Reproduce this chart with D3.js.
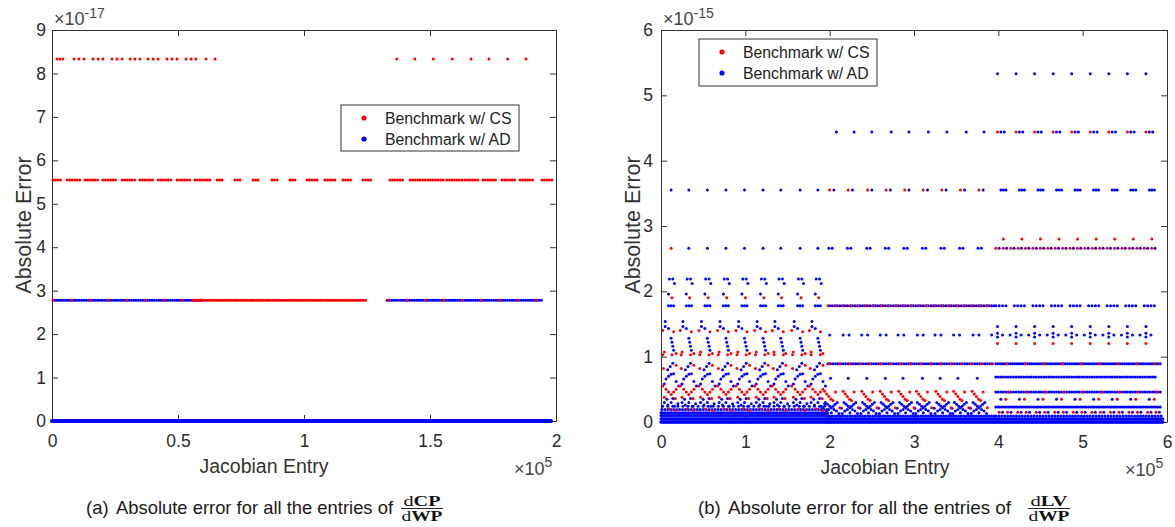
<!DOCTYPE html>
<html><head><meta charset="utf-8">
<script src="https://cdn.jsdelivr.net/npm/d3@7"></script>
<style>body{margin:0;background:#fff}svg{display:block}</style>
</head><body>
<svg id="chart" width="1175" height="527"></svg>
<script>
// ---------- series ----------
const seriesNames = ["Benchmark w/ CS", "Benchmark w/ AD"];
const seriesColors = ["#ff0000", "#0000ff"];

// ---------- panel (a): dCP/dWP, x in 1e5, error in 1e-17 ----------
const cpXTicks = [0, 0.5, 1, 1.5, 2];
const cpYTicks = [0, 1, 2, 3, 4, 5, 6, 7, 8, 9];
// [series, error level, entry positions]
const cpRows = [
  [0, 8.33, [0.020, 0.032, 0.044, 0.087, 0.107, 0.127, 0.163, 0.183, 0.202, 0.238, 0.258, 0.278,
             0.310, 0.329, 0.349, 0.381, 0.401, 0.421, 0.456, 0.476, 0.496, 0.532, 0.552, 0.571,
             0.611, 0.647, 1.368, 1.440, 1.513, 1.588, 1.663, 1.734, 1.808, 1.881]]
];
// entry ranges filled at level 5.55 (CS)
const cpLevel555 = [[0.004, 0.040], [0.060, 0.111], [0.131, 0.183], [0.202, 0.258], [0.278, 0.329],
  [0.349, 0.401], [0.421, 0.480], [0.496, 0.548], [0.567, 0.627], [0.655, 0.675], [0.726, 0.754],
  [0.798, 0.825], [0.873, 0.897], [0.944, 0.972], [1.012, 1.052], [1.083, 1.123], [1.155, 1.194],
  [1.234, 1.270], [1.341, 1.393], [1.421, 1.488], [1.492, 1.552], [1.567, 1.627], [1.639, 1.698],
  [1.710, 1.766], [1.786, 1.845], [1.857, 1.909], [1.944, 1.984]];
// [series, level, first entry, last entry, spacing]
const cpRuns = [
  [1, 0.00, 0.000, 1.980, 0.006],
  [1, 2.78, 0.010, 0.600, 0.009],
  [1, 2.78, 1.330, 1.950, 0.009],
  [0, 2.78, 0.004, 0.600, 0.0734],
  [0, 2.78, 0.560, 1.250, 0.009],
  [0, 2.78, 1.335, 1.960, 0.0734]
];

// ---------- panel (b): dLV/dWP, x in 1e5, error in 1e-15 ----------
const lvXTicks = [0, 1, 2, 3, 4, 5, 6];
const lvYTicks = [0, 1, 2, 3, 4, 5, 6];
const blocksA = [0.12, 0.33, 0.55, 0.77, 0.99, 1.21, 1.42, 1.65, 1.86];
const blocksB = [2.06, 2.28, 2.51, 2.73, 2.95, 3.17, 3.39, 3.61, 3.83];
const blocksBv = [2.02, 2.24, 2.46, 2.68, 2.90, 3.11, 3.34, 3.55, 3.77];
const blocksC = [3.99, 4.21, 4.43, 4.65, 4.87, 5.09, 5.31, 5.53, 5.75];

const lvRows = [
  [1, 5.33, blocksC],
  [1, 4.44, [2.08, 2.29, 2.50, 2.73, 2.94, 3.17, 3.39, 3.62, 3.83]],
  [1, 3.55, blocksA],
  [0, 2.66, [0.12]],
  [1, 2.66, [0.33, 0.55, 0.77, 0.99, 1.21, 1.42, 1.65, 1.86]],
  [0, 2.80, [4.06, 4.28, 4.50, 4.72, 4.94, 5.16, 5.38, 5.60, 5.82]],
  [1, 1.46, blocksC],
  [0, 1.20, blocksC],
  [1, 1.33, [2.00, 2.16, 2.23, 2.38, 2.45, 2.60, 2.67, 2.81, 2.88, 3.04, 3.11, 3.25, 3.32, 3.47, 3.54, 3.70, 3.77]],
  [1, 0.67, [2.01, 2.22, 2.44, 2.66, 2.87, 3.10, 3.31, 3.52, 3.75]]
];
const lvRuns = [
  // first third
  [0, 1.03, 0.02, 1.95, 0.11],
  [1, 0.00, 0.00, 1.98, 0.012], [1, 0.05, 0.00, 1.98, 0.015], [1, 0.10, 0.00, 1.98, 0.02],
  [1, 0.14, 0.00, 1.98, 0.025], [1, 0.19, 0.01, 1.98, 0.035], [1, 0.24, 0.02, 1.96, 0.06],
  // second third
  [1, 1.78, 2.00, 3.95, 0.03], [0, 1.78, 1.98, 3.95, 0.09],
  [1, 0.89, 1.98, 3.95, 0.03], [0, 0.89, 2.00, 3.95, 0.12],
  [1, 0.00, 1.98, 3.97, 0.012], [1, 0.05, 1.98, 3.97, 0.018], [1, 0.09, 2.00, 3.97, 0.03],
  // last third
  [0, 2.66, 3.97, 5.88, 0.088], [1, 2.66, 4.01, 5.88, 0.088],
  [1, 0.89, 3.97, 5.92, 0.025], [0, 0.89, 4.10, 5.90, 0.22],
  [1, 0.69, 3.97, 5.88, 0.03],
  [1, 0.46, 3.97, 5.92, 0.03],
  [1, 0.23, 3.97, 5.92, 0.025],
  [1, 0.00, 3.97, 5.95, 0.012], [1, 0.05, 3.97, 5.95, 0.02], [1, 0.09, 3.97, 5.95, 0.035]
];
// repeating column groups: [offset, level, series]
const lvMotifs = [
  { blocks: blocksA, marks: [
    [-0.02, 2.19, 1], [0.02, 2.19, 1], [0.04, 2.12, 1],
    [-0.03, 1.96, 1], [0.01, 1.90, 0],
    [-0.03, 1.78, 1], [0.00, 1.78, 1], [0.03, 1.78, 1],
    [-0.07, 1.54, 1],
    [-0.10, 1.40, 0], [-0.07, 1.46, 1], [-0.03, 1.43, 1], [0.03, 1.38, 0],
    [0.00, 1.28, 1], [0.01, 1.22, 1], [0.02, 1.16, 1], [0.03, 1.10, 1], [-0.08, 1.07, 0], [0.06, 1.05, 0],
    [-0.09, 0.82, 0], [-0.04, 0.80, 1], [-0.01, 0.85, 1], [0.02, 0.90, 1], [0.06, 0.87, 0],
    [-0.06, 0.66, 1], [-0.03, 0.70, 1], [0.00, 0.73, 1], [0.03, 0.74, 1], [0.06, 0.62, 1], [-0.08, 0.58, 1],
    [-0.10, 0.55, 0], [0.09, 0.55, 1],
    [-0.06, 0.50, 0], [-0.03, 0.46, 0], [0.00, 0.42, 0], [0.03, 0.46, 0], [0.06, 0.50, 0], [-0.08, 0.38, 0], [0.05, 0.36, 0],
    [-0.05, 0.35, 1], [0.02, 0.36, 1],
    [-0.08, 0.30, 1], [-0.04, 0.26, 1], [0.00, 0.30, 1], [0.04, 0.24, 1], [0.08, 0.28, 1], [-0.02, 0.20, 0], [0.06, 0.18, 0]
  ]},
  { blocks: blocksB, marks: [
    [-0.06, 3.55, 0], [-0.01, 3.55, 1], [-0.07, 2.66, 1], [-0.03, 2.66, 1]
  ]},
  { blocks: blocksBv, marks: [
    [-0.08, 0.47, 0], [-0.055, 0.43, 0], [-0.03, 0.39, 0], [-0.005, 0.35, 0], [0.02, 0.33, 0], [0.05, 0.46, 0],
    [-0.07, 0.30, 1], [-0.045, 0.27, 1], [-0.02, 0.24, 1], [0.00, 0.22, 1], [0.02, 0.24, 1], [0.045, 0.27, 1], [0.07, 0.30, 1],
    [-0.06, 0.17, 1], [-0.03, 0.19, 1], [0.03, 0.19, 1], [0.06, 0.17, 1], [0.00, 0.14, 1],
    [-0.09, 0.13, 1], [0.09, 0.13, 1], [0.10, 0.22, 0], [-0.10, 0.21, 1]
  ]},
  { blocks: blocksC, marks: [
    [0.00, 4.44, 0], [0.04, 4.44, 1], [0.08, 4.44, 1],
    [0.04, 3.55, 1], [0.07, 3.55, 1], [0.10, 3.55, 1],
    [-0.02, 1.78, 1], [0.02, 1.78, 1], [0.06, 1.78, 1], [0.10, 1.78, 1],
    [-0.07, 1.33, 1], [0.00, 1.36, 1], [0.00, 1.30, 1], [0.06, 1.33, 1],
    [0.04, 0.35, 1], [0.10, 0.35, 0],
    [0.02, 0.15, 0], [0.06, 0.15, 1], [0.12, 0.15, 0], [0.16, 0.15, 1],
    [0.13, 0.46, 0]
  ]}
];

// ---------- helpers ----------
function expandPoints(rows, runs, motifs, ranges) {
  const pts = [];
  rows.forEach(([s, v, xs]) => xs.forEach(x => pts.push({ s, x, v })));
  runs.forEach(([s, v, x0, x1, step]) => {
    for (let x = x0; x <= x1 + 1e-9; x += step) pts.push({ s, x, v });
  });
  motifs.forEach(({ blocks, marks }) =>
    blocks.forEach(b => marks.forEach(([dx, v, s]) => pts.push({ s, x: b + dx, v }))));
  (ranges || []).forEach(({ s, v, spans, step }) => spans.forEach(([x0, x1]) => {
    for (let x = x0; x <= x1 + 1e-9; x += step) pts.push({ s, x, v });
  }));
  return pts;
}

const svg = d3.select("#chart");
const sans = "'Liberation Sans', Arial, Helvetica, sans-serif";
const serif = "'Liberation Serif', 'Times New Roman', serif";
const axisColor = "#333";
const textColor = "#2b2b2b";

function drawPanel(cfg) {
  const x = d3.scaleLinear().domain(cfg.xDomain).range([cfg.left, cfg.right]);
  const y = d3.scaleLinear().domain(cfg.yDomain).range([cfg.bottom, cfg.top]);
  const g = svg.append("g");

  const styleAxis = sel => {
    sel.selectAll("path.domain").attr("stroke", axisColor).attr("stroke-width", 1);
    sel.selectAll(".tick line").attr("stroke", axisColor).attr("stroke-width", 1);
    sel.selectAll(".tick text").attr("fill", textColor).style("font", `17.5px ${sans}`);
  };

  g.append("g").attr("transform", `translate(0,${cfg.bottom})`)
    .call(d3.axisBottom(x).tickValues(cfg.xTicks).tickSize(-6).tickSizeOuter(0).tickPadding(14).tickFormat(d => String(d)))
    .call(styleAxis);
  g.append("g").attr("transform", `translate(0,${cfg.top})`)
    .call(d3.axisTop(x).tickValues(cfg.xTicks).tickSize(-6).tickSizeOuter(0).tickFormat(""))
    .call(styleAxis);
  g.append("g").attr("transform", `translate(${cfg.left},0)`)
    .call(d3.axisLeft(y).tickValues(cfg.yTicks).tickSize(-6).tickSizeOuter(0).tickPadding(cfg.yPad).tickFormat(d => String(d)))
    .call(styleAxis);
  g.append("g").attr("transform", `translate(${cfg.right},0)`)
    .call(d3.axisRight(y).tickValues(cfg.yTicks).tickSize(-6).tickSizeOuter(0).tickFormat(""))
    .call(styleAxis);

  // points: AD first, CS on top
  const pts = cfg.points.slice().sort((a, b) => b.s - a.s);
  g.append("g").selectAll("circle").data(pts).join("circle")
    .attr("cx", d => x(d.x)).attr("cy", d => y(d.v))
    .attr("r", d => (d.v === 0 ? cfg.r0 : cfg.r))
    .attr("fill", d => seriesColors[d.s]);

  // exponent labels
  const ey = g.append("text").attr("x", cfg.left + 2).attr("y", cfg.top - 5)
    .attr("fill", "#444").style("font", `18px ${sans}`);
  ey.append("tspan").text("\u00d710");
  ey.append("tspan").attr("dy", -7).style("font-size", "14px").text(cfg.yExp);

  const ex = g.append("text").attr("x", cfg.right - 42).attr("y", cfg.bottom + 54)
    .attr("fill", "#444").style("font", `18px ${sans}`);
  ex.append("tspan").text("\u00d710");
  ex.append("tspan").attr("dy", -8).style("font-size", "14px").text(cfg.xExp);

  // axis titles
  g.append("text").attr("x", cfg.xTitleX).attr("y", cfg.bottom + 52)
    .attr("text-anchor", "middle").attr("fill", "#333")
    .style("font", `19.5px ${sans}`).text("Jacobian Entry");
  g.append("text").attr("transform", `translate(${cfg.yTitleX},225) rotate(-90)`)
    .attr("text-anchor", "middle").attr("fill", "#333")
    .style("font", `21.5px ${sans}`).text("Absolute Error");

  // legend
  const L = cfg.legend;
  const lg = g.append("g");
  lg.append("rect").attr("x", L.x).attr("y", L.y).attr("width", L.w).attr("height", L.h)
    .attr("fill", "#fff").attr("stroke", "#333").attr("stroke-width", 1);
  seriesNames.forEach((name, i) => {
    const cy = L.y + 13 + i * 21;
    lg.append("circle").attr("cx", L.x + 23).attr("cy", cy).attr("r", 2.6).attr("fill", seriesColors[i]);
    lg.append("text").attr("x", L.x + 44).attr("y", cy + 5.5).attr("fill", "#222")
      .style("font", `15.8px ${sans}`).text(name);
  });

  // caption
  const cap = cfg.caption;
  svg.append("text").attr("x", cap.x).attr("y", 514).attr("fill", "#1a1a1a")
    .style("font", `18.5px ${sans}`).text(cap.tag);
  svg.append("text").attr("x", cap.x + 30).attr("y", 514).attr("fill", "#1a1a1a")
    .style("font", `18.5px ${sans}`).attr("textLength", cap.len).attr("lengthAdjust", "spacingAndGlyphs")
    .text("Absolute error for all the entries of");
  const fx = cap.fracX;
  const num = svg.append("text").attr("x", fx).attr("y", 506).attr("text-anchor", "middle")
    .attr("fill", "#111").style("font", `15px ${serif}`)
    .attr("textLength", 37).attr("lengthAdjust", "spacingAndGlyphs");
  num.append("tspan").text("d");
  num.append("tspan").attr("font-weight", "bold").text(cap.num);
  svg.append("line").attr("x1", fx - 21).attr("x2", fx + 21).attr("y1", 508.5).attr("y2", 508.5)
    .attr("stroke", "#111").attr("stroke-width", 0.9);
  const den = svg.append("text").attr("x", fx).attr("y", 521).attr("text-anchor", "middle")
    .attr("fill", "#111").style("font", `15px ${serif}`)
    .attr("textLength", 41).attr("lengthAdjust", "spacingAndGlyphs");
  den.append("tspan").text("d");
  den.append("tspan").attr("font-weight", "bold").text("WP");
}

drawPanel({
  xDomain: [0, 2], yDomain: [0, 9], left: 52, right: 556, top: 30, bottom: 421,
  xTicks: cpXTicks, yTicks: cpYTicks, yPad: 6, r: 1.5, r0: 2.1,
  points: expandPoints(cpRows, cpRuns, [], [{ s: 0, v: 5.55, spans: cpLevel555, step: 0.01 }]),
  yExp: "-17", xExp: "5", xTitleX: 264, yTitleX: 31,
  legend: { x: 341, y: 105, w: 178, h: 46 },
  caption: { x: 86, tag: "(a)", len: 277, num: "CP", fracX: 422 }
});

drawPanel({
  xDomain: [0, 6], yDomain: [0, 6], left: 661, right: 1167, top: 30, bottom: 422,
  xTicks: lvXTicks, yTicks: lvYTicks, yPad: 8, r: 1.5, r0: 1.7,
  points: expandPoints(lvRows, lvRuns, lvMotifs),
  yExp: "-15", xExp: "5", xTitleX: 885, yTitleX: 640,
  legend: { x: 699, y: 39, w: 178, h: 47 },
  caption: { x: 698, tag: "(b)", len: 283, num: "LV", fracX: 1049 }
});
</script>
</body></html>
